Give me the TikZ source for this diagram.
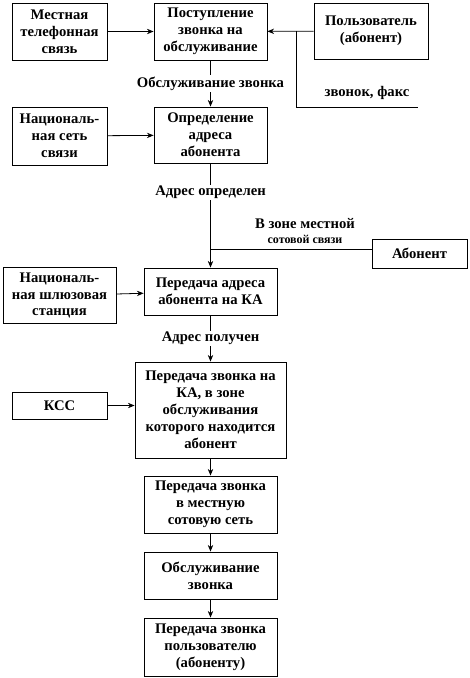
\documentclass[tikz,border=0pt]{standalone}
\usepackage{fontspec}
\setmainfont{Liberation Serif}
\usetikzlibrary{arrows.meta,positioning}

\begin{document}
\begin{tikzpicture}[x=0.75pt,y=-0.75pt,line width=0.6pt,
  box/.style={draw,align=center,inner sep=1pt,font=\fontsize{11}{12.7}\selectfont\bfseries},
  lbl/.style={fill=white,inner sep=1pt,font=\fontsize{11}{12.7}\selectfont\bfseries},
  arr/.style={-{Stealth[length=5pt,width=4pt]}}]
\useasboundingbox (0,0) rectangle (470,678);
\node[box,minimum width=95pt*0.75,minimum height=57pt*0.75] (mestn) at (59.5,31.5) {Местная\\телефонная\\связь};
\node[box,minimum width=113pt*0.75,minimum height=57pt*0.75] (postup) at (210.5,31.5) {Поступление\\звонка на\\обслуживание};
\node[box,minimum width=114pt*0.75,minimum height=56pt*0.75] (polz) at (371,31) {Пользователь\\(абонент)};
\node[box,minimum width=95pt*0.75,minimum height=58pt*0.75] (nacset) at (59.5,136) {Националь-\\ная сеть\\связи};
\node[box,minimum width=113pt*0.75,minimum height=56pt*0.75] (opred) at (210.5,135) {Определение\\адреса\\абонента};
\node[box,minimum width=95pt*0.75,minimum height=29pt*0.75] (abon) at (419.5,253.5) {Абонент};
\node[box,minimum width=113pt*0.75,minimum height=56pt*0.75] (shluz) at (59.5,295.5) {Националь-\\ная шлюзовая\\станция};
\node[box,minimum width=133pt*0.75,minimum height=47pt*0.75] (peradr) at (210.5,291.5) {Передача адреса\\абонента на КА};
\node[box,minimum width=151pt*0.75,minimum height=96pt*0.75] (perka) at (210.5,410) {Передача звонка на\\КА, в зоне\\обслуживания\\которого находится\\абонент};
\node[box,minimum width=95pt*0.75,minimum height=27pt*0.75] (kss) at (59.5,405.5) {КСС};
\node[box,minimum width=133pt*0.75,minimum height=57pt*0.75] (persot) at (210.5,504.5) {Передача звонка\\в местную\\сотовую сеть};
\node[box,minimum width=133pt*0.75,minimum height=47pt*0.75] (obsl) at (210.5,575.5) {Обслуживание\\звонка};
\node[box,minimum width=133pt*0.75,minimum height=58pt*0.75] (perpolz) at (210.5,647) {Передача звонка\\пользователю\\(абоненту)};

\coordinate (fork) at (296,31);
\coordinate (faxend) at (418,107);
\coordinate (zone) at (210.5,249);

\draw[arr] (mestn) -- (postup);
\draw[arr] (polz) -- (postup);
\draw (fork) |- (faxend);
\node[lbl,fill=none] (fax) at (367,93) {звонок, факс};
\draw[arr] (postup) -- (opred) node[lbl,midway] (obsllbl) {Обслуживание звонка};
\draw[arr] (nacset) -- (opred);
\draw[arr] (opred) -- (peradr) node[lbl,pos=0.28] (adropr) {Адрес определен};
\draw (abon.west |- zone) -- (zone);
\node[lbl,fill=none,align=center] (zonelbl) at (305,231) {В зоне местной\\[-1pt]{\fontsize{9}{10}\selectfont сотовой связи}};
\draw[arr] (shluz) -- (peradr);
\draw[arr] (peradr) -- (perka) node[lbl,midway] (adrpol) {Адрес получен};
\draw[arr] (kss) -- (perka.west |- kss);
\draw[arr] (perka) -- (persot);
\draw[arr] (persot) -- (obsl);
\draw[arr] (obsl) -- (perpolz);
\end{tikzpicture}
\end{document}
